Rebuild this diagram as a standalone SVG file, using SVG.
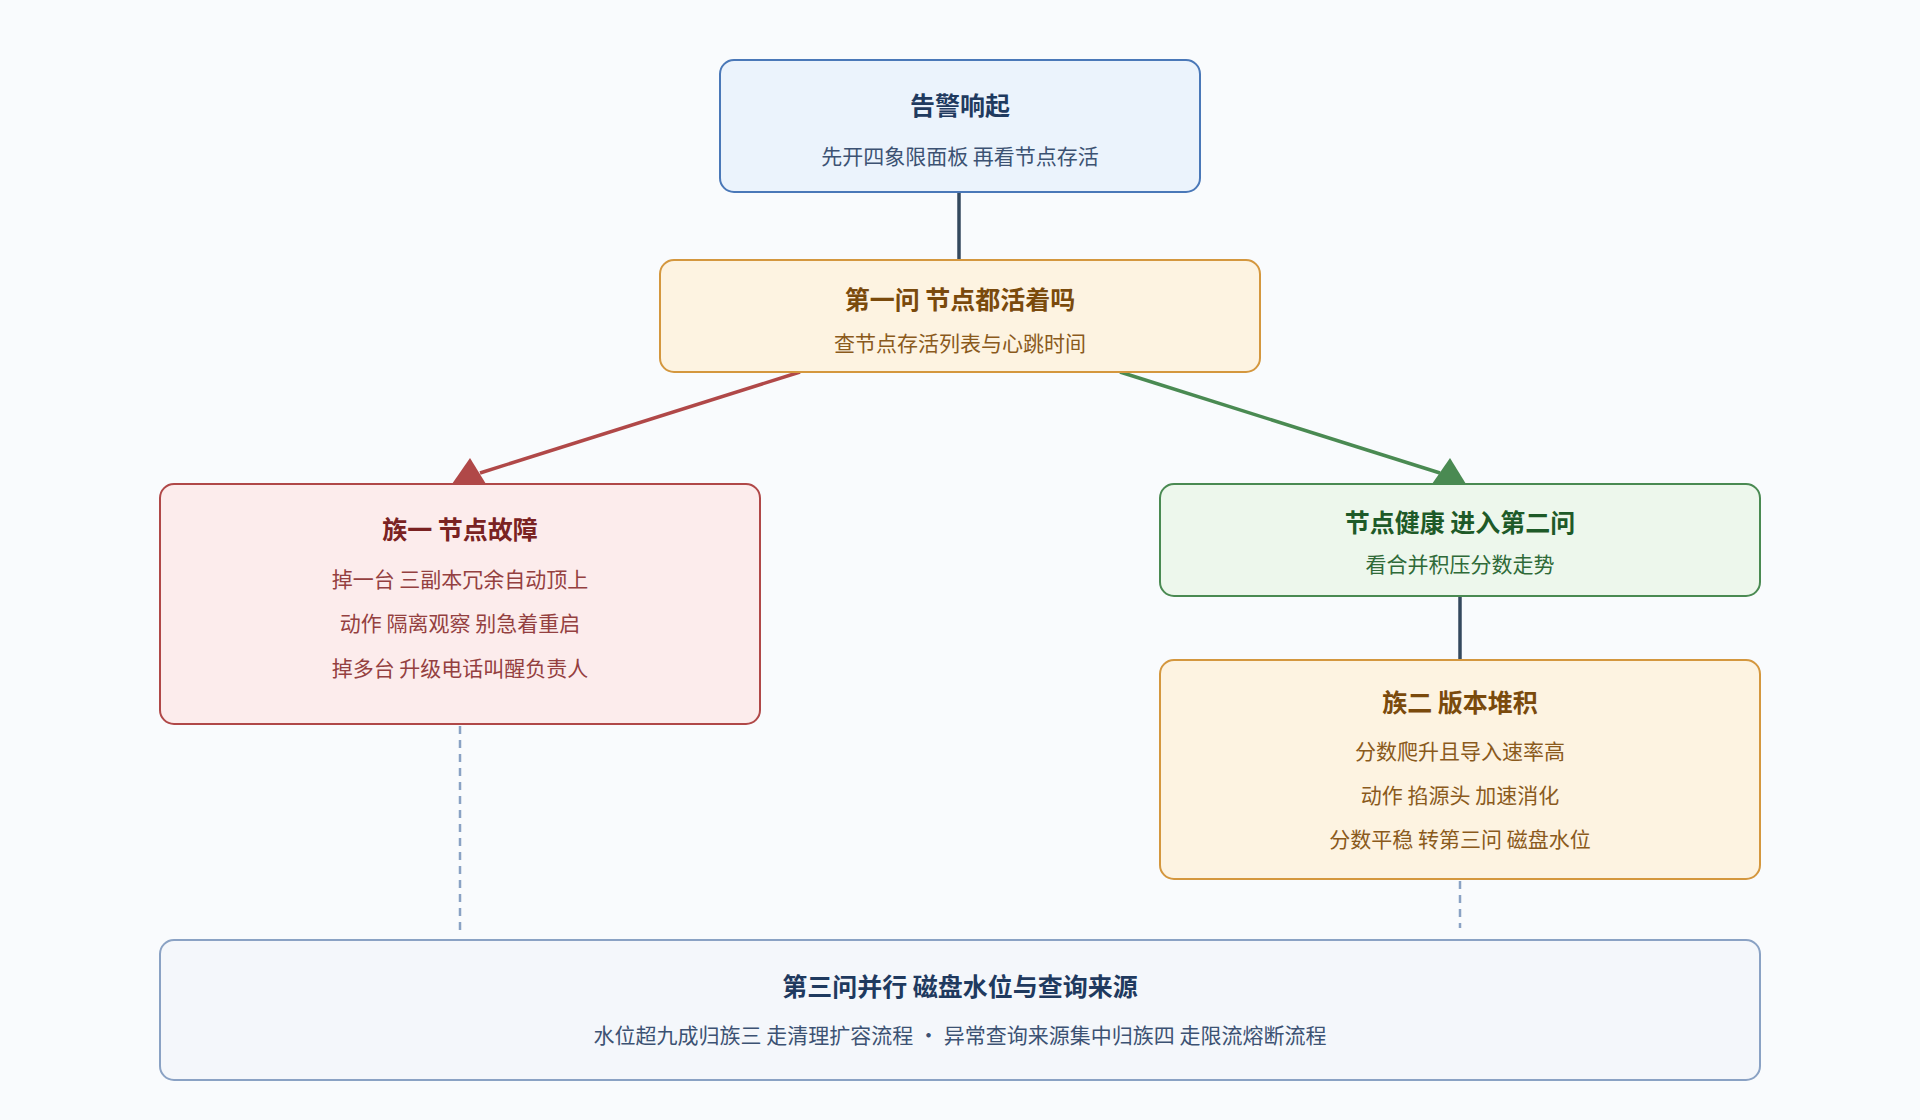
<svg xmlns="http://www.w3.org/2000/svg" width="1920" height="1120" viewBox="0 0 1920 1120">
<style>
text{font-family:"Noto Sans CJK SC","Noto Sans",sans-serif;text-anchor:middle}
.t{font-size:25px;font-weight:bold}
.s{font-size:21px}
.box{stroke-width:2}
</style>
<defs>
<marker id="ar" markerWidth="10" markerHeight="10" refX="8" refY="5" orient="auto" markerUnits="userSpaceOnUse" viewBox="0 0 10 10"><path d="M0,0L10,5L0,10z" fill="#b04848"/></marker>
</defs>
<rect width="1920" height="1120" fill="#f9fbfd"/>
<g id="connectors" fill="none" stroke-width="3.5">
<line x1="959" y1="192" x2="959" y2="260" stroke="#34495e"/>
<line x1="800" y1="372" x2="480" y2="473" stroke="#b04848"/>
<polygon points="452,484 486,484 470,458" fill="#b04848" stroke="none"/>
<line x1="1120" y1="372" x2="1440" y2="473" stroke="#4a8a52"/>
<polygon points="1432,484 1466,484 1450,458" fill="#4a8a52" stroke="none"/>
<line x1="1460" y1="596" x2="1460" y2="660" stroke="#34495e"/>
<line x1="460" y1="726" x2="460" y2="934" stroke="#8aa2c4" stroke-width="2.5" stroke-dasharray="8,6"/>
<line x1="1460" y1="881" x2="1460" y2="928" stroke="#8aa2c4" stroke-width="2.5" stroke-dasharray="8,6"/>
</g>
<g id="n1"><rect class="box" x="720" y="60" width="480" height="132" rx="14" fill="#ebf3fc" stroke="#4a78b8"/>
<text class="t" x="960" y="115" fill="#1f3a5f">告警响起</text>
<text class="s" x="960" y="164" fill="#3c5273">先开四象限面板 再看节点存活</text></g>
<g id="n2"><rect class="box" x="660" y="260" width="600" height="112" rx="14" fill="#fdf3e1" stroke="#d4973e"/>
<text class="t" x="960" y="309" fill="#7a4a0c">第一问 节点都活着吗</text>
<text class="s" x="960" y="351" fill="#8a5a1c">查节点存活列表与心跳时间</text></g>
<g id="n3"><rect class="box" x="160" y="484" width="600" height="240" rx="14" fill="#fcecec" stroke="#b04848"/>
<text class="t" x="460" y="539" fill="#7a2222">族一 节点故障</text>
<text class="s" x="460" y="587" fill="#944040">掉一台 三副本冗余自动顶上</text>
<text class="s" x="460" y="631" fill="#944040">动作 隔离观察 别急着重启</text>
<text class="s" x="460" y="676" fill="#944040">掉多台 升级电话叫醒负责人</text></g>
<g id="n4"><rect class="box" x="1160" y="484" width="600" height="112" rx="14" fill="#edf7ec" stroke="#4a8a52"/>
<text class="t" x="1460" y="532" fill="#1e5a28">节点健康 进入第二问</text>
<text class="s" x="1460" y="572" fill="#2f6a38">看合并积压分数走势</text></g>
<g id="n5"><rect class="box" x="1160" y="660" width="600" height="219" rx="14" fill="#fdf3e1" stroke="#d4973e"/>
<text class="t" x="1460" y="712" fill="#7a4a0c">族二 版本堆积</text>
<text class="s" x="1460" y="759" fill="#8a5a1c">分数爬升且导入速率高</text>
<text class="s" x="1460" y="803" fill="#8a5a1c">动作 掐源头 加速消化</text>
<text class="s" x="1460" y="847" fill="#8a5a1c">分数平稳 转第三问 磁盘水位</text></g>
<g id="n6"><rect class="box" x="160" y="940" width="1600" height="140" rx="14" fill="#f4f7fb" stroke="#8aa2c4"/>
<text class="t" x="960" y="996" fill="#1f3a5f">第三问并行 磁盘水位与查询来源</text>
<text class="s" x="960" y="1043" fill="#3c5273">水位超九成归族三 走清理扩容流程 · 异常查询来源集中归族四 走限流熔断流程</text></g>
</svg>
